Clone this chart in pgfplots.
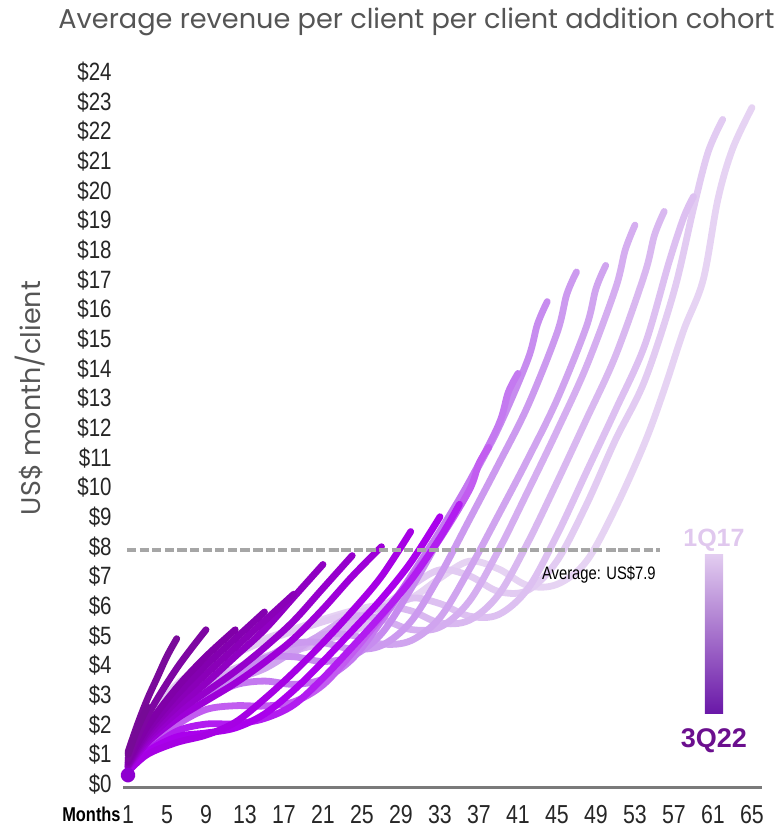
\documentclass[border=0pt]{standalone}
\usepackage{fontspec}
\setmainfont{Liberation Sans}
\newfontfamily\narrowfont[FakeStretch=0.82]{Liberation Sans}
\newfontfamily\titlefont{Poppins}
\usepackage{graphicx}
\usepackage{pgfplots}
\pgfplotsset{compat=1.18}
\definecolor{titlegray}{HTML}{555555}
\definecolor{axisgray}{HTML}{7A7A7A}
\definecolor{avggray}{HTML}{A6A6A6}
\definecolor{c0}{HTML}{E6D3F3}
\definecolor{c1}{HTML}{E2CBF2}
\definecolor{c2}{HTML}{DDC0F1}
\definecolor{c3}{HTML}{D9B8F0}
\definecolor{c4}{HTML}{D5AEF0}
\definecolor{c5}{HTML}{D0A4EF}
\definecolor{c6}{HTML}{CC9AEF}
\definecolor{c7}{HTML}{C78CEF}
\definecolor{c8}{HTML}{C479F0}
\definecolor{c9}{HTML}{C25DF0}
\definecolor{c10}{HTML}{B21CF0}
\definecolor{c11}{HTML}{AA00EC}
\definecolor{c12}{HTML}{A600E4}
\definecolor{c13}{HTML}{9E00D8}
\definecolor{c14}{HTML}{9600CC}
\definecolor{c15}{HTML}{9000C2}
\definecolor{c16}{HTML}{8A00B8}
\definecolor{c17}{HTML}{8400B0}
\definecolor{c18}{HTML}{8000A8}
\definecolor{c19}{HTML}{7E06A2}
\definecolor{c20}{HTML}{7A0A9A}
\definecolor{c21}{HTML}{760A96}
\definecolor{cdot}{HTML}{8E00D0}
\definecolor{cbtop}{HTML}{E2CCF0}
\definecolor{cbmid}{HTML}{8A48C8}
\definecolor{cbbot}{HTML}{6A18A8}
\definecolor{lab1}{HTML}{E0C8EE}
\definecolor{lab2}{HTML}{6B0F8E}
\begin{document}
\begin{tikzpicture}
\begin{axis}[
  scale only axis, width=319.5pt, height=363pt,
  xmin=0.487, xmax=66.03, ymin=-0.1, ymax=24.37,
  clip=false,
  axis x line=bottom, axis y line=left,
  x axis line style={draw=axisgray, line width=1.5pt, -},
  y axis line style={draw=none},
  major tick length=0pt,
  xtick={1,5,9,13,17,21,25,29,33,37,41,45,49,53,57,61,65},
  xticklabels={1,5,9,13,17,21,25,29,33,37,41,45,49,53,57,61,65},
  ytick={0,1,2,3,4,5,6,7,8,9,10,11,12,13,14,15,16,17,18,19,20,21,22,23,24},
  yticklabels={\$0,\$1,\$2,\$3,\$4,\$5,\$6,\$7,\$8,\$9,\$10,\$11,\$12,\$13,\$14,\$15,\$16,\$17,\$18,\$19,\$20,\$21,\$22,\$23,\$24},
  xticklabel style={font=\narrowfont\fontsize{13}{14}\selectfont, anchor=north, inner sep=0pt, yshift=-9pt, text=black!85},
  yticklabel style={font=\narrowfont\fontsize{12.5}{14}\selectfont, anchor=east, inner sep=0pt, xshift=-5.5pt, text=black!85},
  every axis plot/.append style={line width=3.4pt, line cap=round, line join=round, smooth, tension=0.55},
]
% 1Q17 ... 2Q22 cohorts (lightest first)
\addplot[c0] coordinates {(1,0.88)(3,2.19)(6,3.36)(9,4.02)(12,4.45)(15,4.89)(18,5.22)(21,5.55)(24,5.84)(27,6.06)(30,6.26)(33,6.94)(36,7.51)(39,7.25)(42,6.69)(45,6.73)(48,7.5)(51,9.3)(54,11.5)(56,13.3)(58,15.3)(60,17.0)(61.5,19.7)(63,21.4)(65,22.8)};
\addplot[c1] coordinates {(1,0.86)(3,2.16)(6,3.31)(9,3.96)(12,4.39)(15,4.82)(18,5.15)(21,5.47)(24,5.76)(27,5.98)(30,6.67)(33,7.22)(36,7.02)(39,6.49)(42,6.53)(45,7.52)(48,9.4)(51,11.6)(54,13.6)(57,16.6)(59,19.4)(60.5,21.3)(62,22.4)};
\addplot[c2] coordinates {(1,0.77)(3,1.92)(6,2.94)(9,3.52)(12,3.90)(15,4.29)(18,4.58)(21,4.86)(24,5.12)(27,5.74)(30,6.26)(33,6.08)(36,5.66)(39,5.71)(42,6.58)(45,8.39)(48,10.5)(51,12.6)(54,14.79)(56.5,17.6)(58,19.1)(59,19.8)};
\addplot[c3] coordinates {(1,0.76)(3,1.89)(6,2.90)(9,3.47)(12,3.84)(15,4.22)(18,4.50)(21,4.79)(24,5.44)(27,5.96)(30,5.84)(33,5.43)(36,5.52)(39,6.38)(42,8.13)(45,10.17)(48,12.28)(51,14.43)(54,17.2)(55,18.5)(56,19.3)};
\addplot[c4] coordinates {(1,0.74)(3,1.86)(6,2.85)(9,3.41)(12,3.78)(15,4.15)(18,4.43)(21,5.09)(24,5.65)(27,5.56)(30,5.21)(33,5.29)(36,6.16)(39,7.87)(42,9.86)(45,11.9)(48,14.06)(51,16.7)(52,18.0)(53,18.84)};
\addplot[c5] coordinates {(1,0.70)(3,1.74)(6,2.67)(9,3.19)(12,3.54)(15,3.89)(18,4.48)(21,5.03)(24,5.01)(27,4.72)(30,4.83)(33,5.61)(36,7.23)(39,9.07)(42,10.95)(45,12.95)(48,15.4)(49,16.7)(50,17.48)};
\addplot[c6] coordinates {(1,0.70)(3,1.74)(6,2.67)(9,3.19)(12,3.54)(15,4.20)(18,4.73)(21,4.76)(24,4.55)(27,4.67)(30,5.47)(33,7.04)(36,8.9)(39,10.78)(42,12.74)(45,15.2)(46,16.5)(47,17.26)};
\addplot[c7] coordinates {(1,0.67)(3,1.67)(6,2.55)(9,3.05)(12,3.66)(15,4.24)(18,4.29)(21,4.13)(24,4.31)(27,5.07)(30,6.57)(33,8.3)(36,10.12)(39,12.0)(42,14.3)(43,15.5)(44,16.26)};
\addplot[c8] coordinates {(1,0.58)(3,1.44)(6,2.21)(9,2.85)(12,3.34)(15,3.47)(18,3.36)(21,3.54)(24,4.22)(27,5.5)(30,7.0)(33,8.53)(36,10.19)(39,12.1)(40,13.2)(41,13.84)};
\addplot[c9] coordinates {(1,0.48)(3,1.20)(6,1.99)(9,2.51)(12,2.64)(15,2.63)(18,2.77)(21,3.34)(24,4.42)(27,5.64)(30,6.93)(33,8.27)(36,9.9)(37,10.8)(38,11.35)};
\addplot[c10] coordinates {(1,0.42)(3,1.10)(6,1.78)(9,2.02)(12,2.03)(15,2.21)(18,2.67)(21,3.57)(24,4.62)(27,5.7)(30,6.86)(33,8.3)(35,9.43)};
\addplot[c11] coordinates {(1,0.43)(3,1.09)(6,1.59)(9,1.72)(12,1.89)(15,2.36)(18,3.16)(21,4.13)(24,5.17)(27,6.24)(30,7.47)(33,9.01)};
\addplot[c12] coordinates {(1,0.42)(3,1.00)(6,1.40)(9,1.65)(12,2.08)(15,2.87)(18,3.77)(21,4.76)(24,5.83)(27,7.0)(30,8.51)};
\addplot[c13] coordinates {(1,0.55)(3,1.4)(6,2.2)(9,2.8)(12,3.4)(15,4.1)(18,4.9)(21,5.9)(24,7.0)(27,8.0)};
\addplot[c14] coordinates {(1,0.6)(3,1.5)(6,2.4)(9,3.1)(12,3.8)(15,4.6)(18,5.5)(21,6.6)(24,7.7)};
\addplot[c15] coordinates {(1,0.62)(3,1.6)(6,2.6)(9,3.4)(12,4.3)(15,5.2)(18,6.3)(21,7.4)};
\addplot[c16] coordinates {(1,0.65)(3,1.7)(6,2.8)(9,3.7)(12,4.6)(15,5.5)(18,6.4)};
\addplot[c17] coordinates {(1,0.7)(3,1.8)(6,3.0)(9,4.0)(12,4.9)(15,5.8)};
\addplot[c18] coordinates {(1,0.75)(3,1.95)(6,3.25)(9,4.3)(12,5.2)};
\addplot[c19] coordinates {(1,0.85)(3,2.3)(6,3.9)(9,5.2)};
\addplot[c20] coordinates {(1,1.08)(2,2.03)(3,2.87)(4,3.59)(5,4.31)(6,4.9)};
\addplot[c21] coordinates {(1,1.0)(2,1.9)(3,2.6)};
% 3Q22
\addplot[only marks, mark=*, mark size=2pt, color=cdot] coordinates {(1,0.3)};
% average line
\addplot[draw=avggray, line width=2pt, line cap=butt, dash pattern=on 4.6pt off 1.7pt] coordinates {(0.9,7.88)(55.6,7.88)};
\node[font=\narrowfont\fontsize{9}{11}\selectfont] at (axis cs:49.3,7.04) {Average: US\$7.9};
% colour key
\shade[top color=cbtop, middle color=cbmid, bottom color=cbbot] (axis cs:60.18,2.39) rectangle (axis cs:62.03,7.72);
\node[text=lab1, font=\bfseries\fontsize{12.5}{14}\selectfont] at (axis cs:61.1,8.22) {1Q17};
\node[text=lab2, font=\bfseries\fontsize{13.5}{15}\selectfont] at (axis cs:61.1,1.45) {3Q22};
\end{axis}
\node[anchor=west, text=titlegray, inner sep=0pt] at (-32.5pt,382.5pt) {\resizebox{358pt}{!}{\titlefont Average revenue per client per client addition cohort}};
\node[rotate=90, text=titlegray, inner sep=0pt] at (-46.5pt,194.5pt) {\resizebox{117pt}{!}{\titlefont US\$ month/client}};
\node[anchor=east, inner sep=0pt, font=\narrowfont\bfseries\fontsize{10}{12}\selectfont] at (-1pt,-13.5pt) {Months};
\pgfresetboundingbox
\path[use as bounding box] (-61.5pt,-23pt) rectangle (328.5pt,393.5pt);
\end{tikzpicture}
\end{document}
